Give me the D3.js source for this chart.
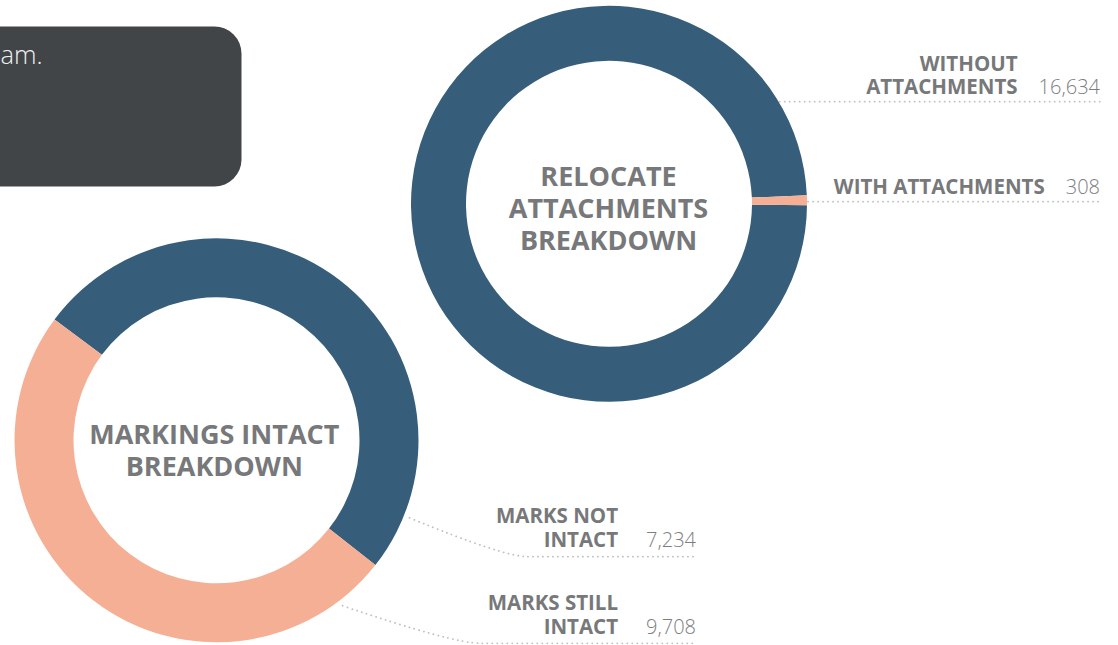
<!DOCTYPE html>
<html>
<head>
<meta charset="utf-8">
<script src="https://cdn.jsdelivr.net/npm/d3@7"></script>
<style>
  html, body { margin: 0; padding: 0; background: #ffffff; overflow: hidden; }
  svg { display: block; }
</style>
</head>
<body>
<svg id="chart" width="1118" height="645"></svg>
<script>
// ---------------- data ----------------
const relocateTitle = ["RELOCATE", "ATTACHMENTS", "BREAKDOWN"];
const relocateLabels = [["WITHOUT", "ATTACHMENTS"], ["WITH ATTACHMENTS"]];
const relocateValues = [16634, 308];
const relocateShares = [99.2, 0.8];      // share of the ring as drawn

const markingsTitle = ["MARKINGS INTACT", "BREAKDOWN"];
const markingsLabels = [["MARKS NOT", "INTACT"], ["MARKS STILL", "INTACT"]];
const markingsValues = [7234, 9708];
const markingsShares = [50.4, 49.6];     // share of the ring as drawn

const sliceColors = ["#365e7b", "#f5af95"];
const boxText = "am.";

// ---------------- drawing ----------------
const svg = d3.select("#chart");
const FONT = "'Open Sans', 'Noto Sans', sans-serif";
const TEXT = "#77787a";
const VAL = "#7d7e80";
const DOT = "#bfc0c1";
const fmt = d3.format(",");
const deg = Math.PI / 180;

// dark note box (partly off-screen)
svg.append("rect")
  .attr("x", -40).attr("y", 26.5)
  .attr("width", 281.5).attr("height", 160)
  .attr("rx", 27).attr("ry", 27)
  .attr("fill", "#424548");
svg.append("text")
  .attr("x", 0.5).attr("y", 64)
  .attr("font-family", FONT).attr("font-weight", 300)
  .attr("font-size", 25.5).attr("fill", "#f0f0f0")
  .text(boxText);

function donut(cfg) {
  const g = svg.append("g");
  const pie = d3.pie().sort(null).value(d => d)
    .startAngle(cfg.start).endAngle(cfg.start + 2 * Math.PI);
  const arc = d3.arc().innerRadius(cfg.ri).outerRadius(cfg.ro);
  const arcs = pie(cfg.shares);

  // leader lines (under the ring)
  const lg = g.append("g");
  cfg.leaders.forEach((L, i) => {
    let p;
    if (L.type === "straight") {
      const dy = L.y - cfg.cy;
      const sx = cfg.cx + Math.sqrt(cfg.ro * cfg.ro - dy * dy) + 1;
      p = d3.path();
      p.moveTo(sx, L.y);
      p.lineTo(L.end, L.y);
    } else {
      const a = L.angle * deg;
      const r = cfg.ro + 6;
      const sx = cfg.cx + r * Math.sin(a);
      const sy = cfg.cy - r * Math.cos(a);
      p = d3.path();
      p.moveTo(sx, sy);
      p.quadraticCurveTo(sx + 0.8 * L.dx, L.y, sx + L.dx, L.y);
      p.lineTo(L.end, L.y);
    }
    lg.append("path").attr("d", p.toString())
      .attr("fill", "none").attr("stroke", DOT)
      .attr("stroke-width", 1.8).attr("stroke-linecap", "round")
      .attr("stroke-dasharray", "0.1,4.9");

    // value (right aligned at line end)
    const v = lg.append("text")
      .attr("x", L.end - 1).attr("y", L.y - cfg.baseOff)
      .attr("text-anchor", "end")
      .attr("font-family", FONT).attr("font-weight", 300)
      .attr("font-size", 20).attr("fill", VAL)
      .text(fmt(cfg.values[i]));
    const vw = v.node().getComputedTextLength();
    const lx = L.end - 1 - vw - cfg.gap;
    const lines = cfg.labels[i];
    const firstY = L.y - cfg.baseOff - (lines.length - 1) * cfg.lineH;
    const t = lg.append("text")
      .attr("x", lx).attr("y", firstY)
      .attr("text-anchor", "end")
      .attr("font-family", FONT).attr("font-weight", 700)
      .attr("font-size", 20.5).attr("fill", TEXT);
    lines.forEach((s, j) => {
      t.append("tspan").attr("x", lx).attr("dy", j === 0 ? 0 : cfg.lineH).text(s);
    });
  });

  g.append("g").attr("transform", `translate(${cfg.cx},${cfg.cy})`)
    .selectAll("path").data(arcs).join("path")
    .attr("d", arc)
    .attr("fill", (d, i) => sliceColors[i]);

  // center title
  const tx = cfg.cx + cfg.titleDx;
  const title = g.append("text")
    .attr("x", tx).attr("y", cfg.cy + cfg.titleDy)
    .attr("text-anchor", "middle")
    .attr("font-family", FONT).attr("font-weight", 700)
    .attr("font-size", 27).attr("fill", TEXT);
  cfg.title.forEach((s, j) => {
    title.append("tspan").attr("x", tx).attr("dy", j === 0 ? 0 : 32.2).text(s);
  });
}

donut({
  cx: 609, cy: 203.8, ro: 198, ri: 143,
  start: 90.4 * deg,
  shares: relocateShares, values: relocateValues, labels: relocateLabels,
  title: relocateTitle, titleDx: -0.5, titleDy: -18.2,
  gap: 21, lineH: 22.8, baseOff: 7.6,
  leaders: [
    { type: "straight", y: 101.7, end: 1101 },
    { type: "straight", y: 201.7, end: 1101 }
  ]
});

donut({
  cx: 216.5, cy: 440.3, ro: 202, ri: 143,
  start: -53.3 * deg,
  shares: markingsShares, values: markingsValues, labels: markingsLabels,
  title: markingsTitle, titleDx: -2.2, titleDy: 3.3,
  gap: 28, lineH: 24.2, baseOff: 9.4,
  leaders: [
    { type: "curve", angle: 111.9, dx: 118, y: 556.7, end: 697 },
    { type: "curve", angle: 142.7, dx: 138, y: 643.3, end: 697 }
  ]
});
</script>
</body>
</html>
